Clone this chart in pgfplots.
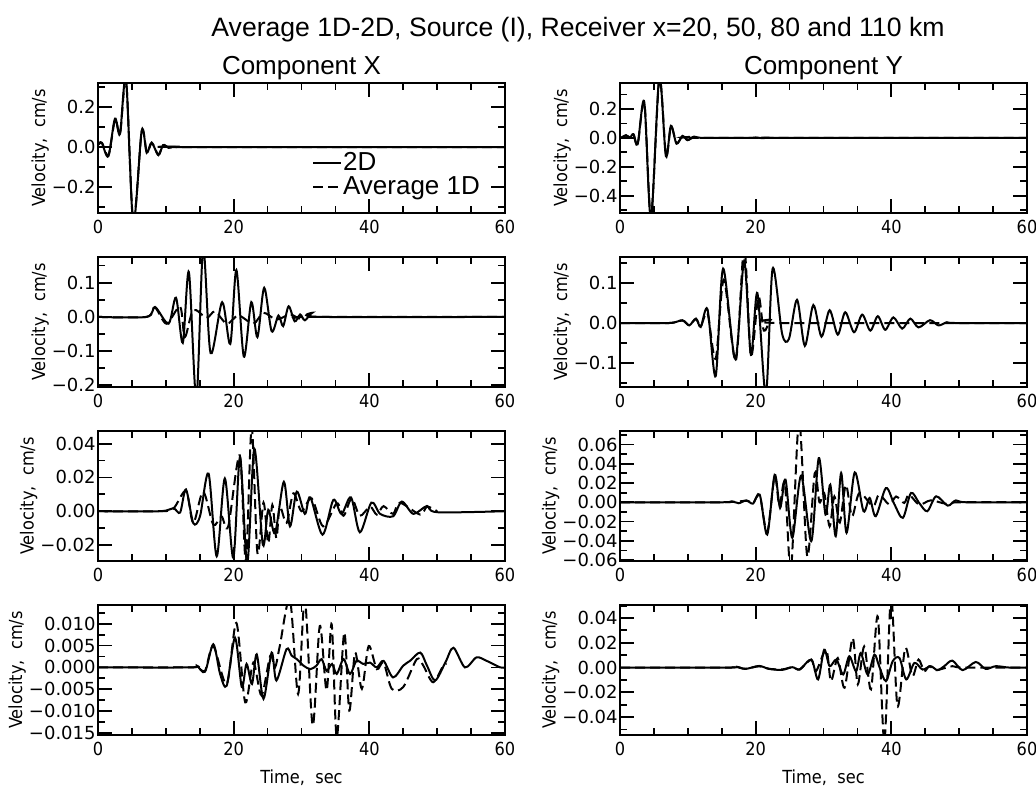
\documentclass[border=0pt]{standalone}
\usepackage{fontspec}
\setmainfont{Liberation Sans}
\newfontfamily\tickfont{DejaVu Sans}
\newfontfamily\labfont{DejaVu Sans Condensed}
\usepackage{pgfplots}
\pgfplotsset{compat=1.18}

\pgfplotsset{
  seis/.style={
    scale only axis, width=203.5pt, height=65pt,
    xmin=0, xmax=60,
    xtick={0,20,40,60}, xticklabels={0,20,40,60},
    minor xtick={5,10,15,25,30,35,45,50,55},
    scaled y ticks=false,
    tick align=inside, major tick length=7pt, minor tick length=3.5pt,
    every tick/.style={black, line width=0.9pt},
    axis line style={line width=1pt},
    ylabel={Velocity,\ \ cm/s},
    label style={font=\labfont\fontsize{9}{10}\selectfont},
    yticklabel style={font=\tickfont\fontsize{9}{10}\selectfont, inner sep=1pt},
    xticklabel style={font=\labfont\fontsize{9}{10}\selectfont},
    ylabel style={yshift=-3pt},
    title style={font=\fontsize{13}{15}\selectfont, yshift=-8pt},
  },
  w2d/.style={black, line width=1pt, smooth},
  w1d/.style={black, line width=1pt, smooth, dash pattern=on 5pt off 2.5pt},
}

\begin{document}
\begin{tikzpicture}
\path[use as bounding box] (0,0) rectangle (518pt,-394pt);
\node[font=\fontsize{13.3}{15}\selectfont] at (289pt,-15pt)
  {Average 1D-2D, Source (I), Receiver x=20, 50, 80 and 110 km};

% ---------- row 1, x = 20 km
\begin{axis}[seis, at={(49pt,-41.5pt)}, anchor=north west,
  title={Component X},
  ymin=-0.33, ymax=0.32,
  ytick={-0.2,0,0.2}, yticklabels={−0.2,0.0,0.2},
  minor ytick={-0.3,-0.1,0.1,0.3},
  legend style={draw=none, fill=none, at={(0.525,0.48)}, anchor=north west,
    font=\fontsize{13}{13}\selectfont, row sep=0.5pt, inner sep=0pt,
    nodes={inner sep=0.5pt}},
  legend cell align=left,
  legend image code/.code={\draw[#1] (0pt,0pt) -- (14pt,0pt);}]
\addplot[w2d] coordinates {(0,0.014) (0.54,0.022) (1.52,-0.046) (2.5,0.142) (3.24,0.065) (4.13,0.34) (5.2,-0.38) (6.44,0.082) (7.18,-0.029) (7.9,0.022) (8.9,-0.041) (9.6,0.01) (10.4,-0.004) (11.1,0.002) (12,0) (60,0)};
\addlegendentry{2D}
\addplot[w1d] coordinates {(0,0.01) (0.6,0.02) (1.55,-0.042) (2.52,0.138) (3.26,0.068) (4.15,0.33) (5.2,-0.37) (6.45,0.078) (7.2,-0.026) (7.95,0.02) (8.9,-0.038) (9.6,0.008) (10.5,-0.003) (11.5,0.001) (13,0) (60,0)};
\addlegendentry{Average 1D}
\end{axis}

\begin{axis}[seis, at={(310pt,-41.5pt)}, anchor=north west,
  title={Component Y},
  ymin=-0.52, ymax=0.38,
  ytick={-0.4,-0.2,0,0.2}, yticklabels={−0.4,−0.2,0.0,0.2},
  minor ytick={-0.5,-0.3,-0.1,0.1,0.3}]
\addplot[w2d] coordinates {(0,0) (0.2,0.002) (0.88,0.019) (1.47,0.002) (1.96,0.026) (2.6,-0.044) (3.58,0.248) (4.56,-0.56) (5.79,0.42) (6.76,-0.126) (7.5,0.084) (8.33,-0.04) (9.2,0.014) (9.95,-0.016) (10.9,0.009) (12.2,0) (19,0) (20,0.003) (21,-0.002) (22,0.002) (23.5,0) (60,0)};
\addplot[w1d] coordinates {(0,0) (0.3,0.002) (0.9,0.017) (1.5,0.003) (2.0,0.024) (2.62,-0.04) (3.6,0.24) (4.57,-0.55) (5.8,0.41) (6.78,-0.12) (7.52,0.08) (8.35,-0.037) (9.2,0.012) (10,-0.014) (11,0.007) (12.5,0) (60,0)};
\end{axis}

% ---------- row 2, x = 50 km
\begin{axis}[seis, at={(49pt,-128.5pt)}, anchor=north west,
  ymin=-0.205, ymax=0.175,
  ytick={-0.2,-0.1,0,0.1}, yticklabels={−0.2,−0.1,0.0,0.1},
  minor ytick={-0.15,-0.05,0.05,0.15}]
\addplot[w2d] coordinates {(0,0) (7.17,0) (8.4,0.029) (10.4,-0.02) (11.5,0.056) (12.5,-0.076) (13.4,0.131) (14.5,-0.24) (15.5,0.2) (16.6,-0.106) (18.3,0.043) (19.5,-0.079) (20.4,0.137) (21.5,-0.116) (22.6,0.043) (23.5,-0.059) (24.5,0.085) (25.6,-0.042) (26.6,0.004) (27.3,-0.027) (28.1,0.031) (29.0,-0.013) (29.8,0.007) (30.5,-0.01) (31.6,0.012) (32.7,0) (60,0)};
\addplot[w1d] coordinates {(0,0) (7.17,0) (8.4,0.027) (10.1,-0.02) (12.1,0.03) (12.8,-0.059) (14.05,0.02) (16.0,-0.003) (17.25,0.016) (19.0,-0.02) (20.7,0.004) (22.9,-0.02) (24.4,0.012) (26.3,-0.008) (28.3,0.007) (29.8,-0.006) (31,0) (60,0)};
\end{axis}

\begin{axis}[seis, at={(310pt,-128.5pt)}, anchor=north west,
  ymin=-0.16, ymax=0.165,
  ytick={-0.1,0,0.1}, yticklabels={−0.1,0.0,0.1},
  minor ytick={-0.15,-0.05,0.05,0.15}]
\addplot[w2d] coordinates {(0,0) (7.25,0) (9.2,0.007) (10.2,-0.006) (11.2,0.011) (11.9,-0.01) (12.9,0.034) (14.1,-0.133) (15.2,0.136) (17.0,-0.09) (18.3,0.155) (19.3,-0.08) (20.25,0.075) (21.5,-0.18) (22.5,0.136) (23.9,-0.027) (24.9,-0.04) (26.1,0.058) (27.25,-0.057) (28.5,0.045) (29.7,-0.034) (30.9,0.032) (32.1,-0.029) (33.2,0.027) (34.5,-0.023) (35.7,0.021) (36.9,-0.019) (38.0,0.017) (39.1,-0.017) (40.3,0.014) (41.6,-0.014) (42.8,0.011) (44.0,-0.011) (45.7,0.007) (46.96,-0.006) (48.2,0.002) (49.4,0) (60,0)};
\addplot[w1d] coordinates {(0,0) (7.25,0) (9.2,0.006) (10.2,-0.005) (11.2,0.01) (11.9,-0.008) (12.9,0.024) (14.1,-0.09) (15.3,0.108) (17.06,-0.095) (18.3,0.19) (19.3,-0.082) (20.4,0.066) (21.2,-0.019) (22.2,0.008) (23.4,0) (60,0)};
\end{axis}

% ---------- row 3, x = 80 km
\begin{axis}[seis, at={(49pt,-215.5pt)}, anchor=north west,
  ymin=-0.0295, ymax=0.0475,
  ytick={-0.02,0,0.02,0.04}, yticklabels={−0.02,0.00,0.02,0.04},
  minor ytick={-0.01,0.01,0.03}]
\addplot[w2d] coordinates {(0,0) (9.14,0) (11.1,0.0018) (12.1,-0.0008) (12.97,0.0129) (14.05,-0.0071) (15.04,-0.003) (16.3,0.0223) (17.5,-0.0267) (18.7,0.0194) (19.95,-0.0276) (20.94,0.0321) (22.0,-0.031) (23.05,0.037) (24.3,-0.0198) (25.1,0.0008) (26.1,-0.013) (27.4,0.0174) (28.3,-0.009) (29.3,0.0116) (30.5,-0.0016) (31.3,0.0082) (33.1,-0.0139) (34.7,0.0067) (35.9,-0.0016) (37.3,0.0082) (38.6,-0.0125) (40.3,0.0051) (41.6,-0.0016) (43.5,-0.003) (44.8,0.0057) (46.5,-0.0016) (48.5,0.0031) (50,-0.0006) (60,0)};
\addplot[w1d] coordinates {(0,0) (9.14,0) (11.1,0.0015) (12.97,0.012) (14.05,-0.007) (15.5,0.0116) (17.0,-0.008) (18.2,-0.003) (19.2,-0.009) (20.9,0.033) (21.8,-0.03) (22.65,0.05) (23.5,-0.0247) (24.4,0.0051) (25.1,-0.019) (25.7,0.0037) (26.3,-0.016) (26.8,0.0027) (27.8,-0.007) (28.8,0.0106) (30.0,0) (31.5,0.0076) (33.2,-0.009) (35.2,0.0047) (36.2,-0.0027) (37.4,0.0076) (38.6,-0.0027) (40.1,0.0027) (41.1,-0.002) (42.1,0.003) (43.5,-0.0016) (44.5,0.005) (47.5,-0.002) (48.5,0.0027) (50,0)};
\end{axis}

\begin{axis}[seis, at={(310pt,-215.5pt)}, anchor=north west,
  ymin=-0.061, ymax=0.074,
  ytick={-0.06,-0.04,-0.02,0,0.02,0.04,0.06},
  yticklabels={−0.06,−0.04,−0.02,0.00,0.02,0.04,0.06},
  minor ytick={-0.05,-0.03,-0.01,0.01,0.03,0.05,0.07}]
\addplot[w2d] coordinates {(0,0) (15,0) (16.5,0.001) (17.5,-0.001) (18.63,0.002) (19.6,-0.0014) (20.6,0.0079) (21.7,-0.0335) (22.8,0.0286) (23.6,-0.0059) (24.4,0.0235) (25.4,-0.0369) (26.7,0.0276) (28.2,-0.0404) (29.3,0.0459) (30.3,-0.0128) (31.0,0.0183) (31.8,-0.0352) (32.6,0.0304) (33.4,-0.0317) (34.6,0.031) (35.9,-0.0093) (36.8,0.0045) (37.7,-0.0145) (39.2,0.0148) (40.4,-0.0014) (41.7,-0.0162) (42.9,0.0097) (44.1,-0.0007) (45.3,-0.0093) (46.6,0.0062) (48.3,-0.0035) (49.5,0.002) (51,0) (60,0)};
\addplot[w1d] coordinates {(0,0) (15,0) (18.63,0.0015) (19.6,-0.001) (20.6,0.007) (21.7,-0.031) (22.8,0.027) (23.5,-0.004) (24.3,0.02) (25.2,-0.07) (26.4,0.085) (27.6,-0.056) (28.7,0.03) (29.4,0) (30.1,0.0097) (30.9,-0.025) (31.6,0.006) (32.4,-0.021) (33.3,0.018) (34.2,-0.0145) (35.3,0.0097) (37.3,-0.004) (38.2,0.008) (39.7,-0.0024) (40.7,0.006) (41.9,-0.0007) (42.6,0.008) (44.1,-0.0024) (45.8,0.002) (48.0,-0.0014) (50,0) (60,0)};
\end{axis}

% ---------- row 4, x = 110 km
\begin{axis}[seis, at={(49pt,-302.5pt)}, anchor=north west,
  xlabel={Time,\ \ sec},
  ymin=-0.0155, ymax=0.0143,
  ytick={-0.015,-0.01,-0.005,0,0.005,0.01},
  yticklabels={−0.015,−0.010,−0.005,0.000,0.005,0.010},
  minor ytick={-0.0125,-0.0075,-0.0025,0.0025,0.0075,0.0125}]
\addplot[w2d] coordinates {(0,0) (13.56,0) (14.55,0.0004) (15.77,-0.001) (17.0,0.0053) (18.0,-0.0015) (18.97,-0.0042) (20.2,0.0068) (21.2,-0.0045) (21.9,0.0008) (22.7,-0.0038) (23.4,0.003) (24.4,-0.0072) (25.6,0.0034) (26.3,-0.003) (27.8,0.0042) (28.55,0.0027) (29.3,0.0019) (30.3,0.0004) (31.3,-0.0004) (32.2,0.0004) (32.97,0.0019) (33.7,-0.0008) (34.5,0.0008) (35.2,-0.0015) (36.2,0.0019) (37.15,-0.0015) (38.1,0.0015) (39.1,0.0008) (40.1,0.0011) (41.1,0) (42.1,0.0015) (43.5,-0.0023) (45.0,0.0004) (46.0,0.0015) (47.5,0.0034) (48.5,0.0004) (49.7,-0.003) (51.2,0.0011) (52.4,0.0045) (54.1,0) (55.8,0.0023) (57.3,0.0015) (59.3,0) (60,0)};
\addplot[w1d] coordinates {(0,0) (13.56,0) (14.55,0.0003) (15.77,-0.0008) (17.0,0.0049) (18.97,-0.0038) (20.4,0.0102) (21.7,-0.008) (22.9,0.0011) (24.1,-0.0064) (25.4,0.0027) (26.1,0) (26.8,0.0049) (28.3,0.0155) (29.5,-0.0061) (30.5,0.0155) (31.65,-0.0133) (32.7,0.0095) (33.7,-0.0053) (34.45,0.0099) (35.2,-0.016) (36.3,0.008) (37.05,-0.0099) (37.9,0.0034) (38.9,-0.0049) (39.9,0.0049) (41.1,-0.0004) (42.1,0.0011) (43.3,-0.0049) (45.0,-0.0045) (47.0,0.0019) (47.96,0.0004) (49.4,-0.0034) (50.9,0.0004) (51.4,0.0008)};
\end{axis}

\begin{axis}[seis, at={(310pt,-302.5pt)}, anchor=north west,
  xlabel={Time,\ \ sec},
  ymin=-0.0545, ymax=0.0505,
  ytick={-0.04,-0.02,0,0.02,0.04},
  yticklabels={−0.04,−0.02,0.00,0.02,0.04},
  minor ytick={-0.05,-0.03,-0.01,0.01,0.03,0.05}]
\addplot[w2d] coordinates {(0,0) (16,0) (17.06,0.0008) (18.5,-0.0011) (20.5,0.0013) (21.96,-0.0011) (23.9,-0.0019) (25.4,0.0003) (26.5,-0.0016) (28.2,0.0064) (29.2,-0.0096) (30.1,0.0144) (30.9,0.0011) (31.9,0.0064) (32.9,-0.0056) (33.8,0.0091) (34.8,-0.0029) (35.5,0.0117) (36.5,-0.0056) (37.5,0.0104) (38.2,0.0011) (39.2,-0.011) (40.2,0.0051) (41.2,0.0077) (42.2,-0.0096) (43.4,0.0037) (44.6,-0.0016) (45.8,0.0011) (46.8,-0.0021) (47.8,0.0011) (49.0,0.0056) (50.5,-0.0021) (52.45,0.0045) (53.9,-0.0011) (55.4,0.0011) (57.35,0) (60,0)};
\addplot[w1d] coordinates {(0,0) (16,0) (17.06,0.0006) (18.5,-0.001) (20.5,0.001) (21.96,-0.001) (23.9,-0.0015) (25.4,0.0002) (26.5,-0.0014) (28.2,0.0064) (28.9,-0.0029) (30.4,0.0144) (31.1,-0.011) (32.1,0.0077) (33.1,-0.0163) (34.3,0.0238) (35.05,-0.0136) (36.0,0.0171) (37.0,-0.0176) (38.0,0.0411) (38.97,-0.06) (39.95,0.058) (40.9,-0.031) (42.05,0.0158) (43.1,-0.0069) (44.0,0.0064) (44.85,-0.0029) (45.6,0.0011) (46.6,-0.0021) (49.0,0.0011) (50.5,0) (60,0)};
\end{axis}
\end{tikzpicture}
\end{document}
